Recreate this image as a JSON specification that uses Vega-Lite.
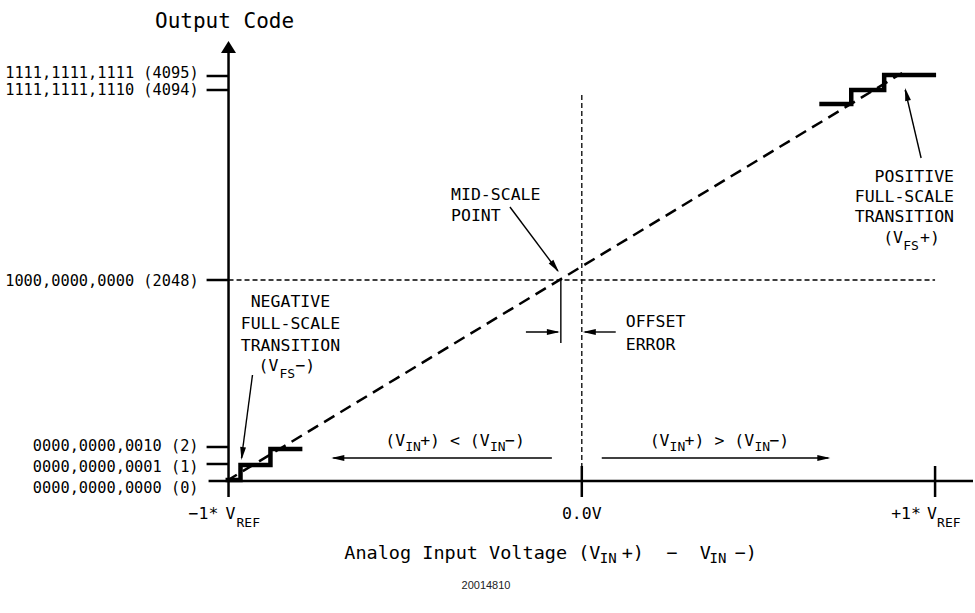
{
  "$schema": "https://vega.github.io/schema/vega-lite/v6.json",
  "width": 975,
  "height": 613,
  "autosize": {"type": "fit", "contains": "padding"},
  "padding": 0,
  "background": "white",
  "config": {"view": {"stroke": null}},
  "datasets": {
    "dotted": [
      {"x": -354, "y": 201, "x2": 354, "y2": 201},
      {"x": 0, "y": 386, "x2": 0, "y2": 0}
    ],
    "ideal": [
      {"x": -356, "y": 0, "x2": 321, "y2": 408}
    ],
    "axisLines": [
      {"x": -354, "y": -16, "x2": -354, "y2": 430},
      {"x": -374, "y": 0, "x2": 392, "y2": 0},
      {"x": -376, "y": 405, "x2": -354, "y2": 405},
      {"x": -376, "y": 391, "x2": -354, "y2": 391},
      {"x": -376, "y": 201, "x2": -354, "y2": 201},
      {"x": -376, "y": 34, "x2": -354, "y2": 34},
      {"x": -376, "y": 17, "x2": -354, "y2": 17},
      {"x": 0, "y": 15, "x2": 0, "y2": -16},
      {"x": 354, "y": 15, "x2": 354, "y2": -16}
    ],
    "leaders": [
      {"x": -21, "y": 201, "x2": -21, "y2": 138},
      {"x": -56, "y": 149, "x2": -24, "y2": 149},
      {"x": 34, "y": 149, "x2": 3, "y2": 149},
      {"x": -30, "y": 23, "x2": -249, "y2": 23},
      {"x": 20, "y": 23, "x2": 247, "y2": 23},
      {"x": -330, "y": 106, "x2": -341, "y2": 23},
      {"x": -72, "y": 274, "x2": -24, "y2": 210},
      {"x": 340, "y": 323, "x2": 324, "y2": 391}
    ],
    "heads": [
      {"x": -22, "y": 149, "dir": 90},
      {"x": 1, "y": 149, "dir": 270},
      {"x": -251, "y": 23, "dir": 270},
      {"x": 249, "y": 23, "dir": 90},
      {"x": -341, "y": 21, "dir": 187},
      {"x": -23, "y": 209, "dir": 143},
      {"x": 324, "y": 393, "dir": 347}
    ],
    "yArrow": [
      {"x": -354, "y": 440}
    ],
    "steps": [
      {"series": "neg", "i": 0, "x": -357, "y": 1},
      {"series": "neg", "i": 1, "x": -342, "y": 1},
      {"series": "neg", "i": 2, "x": -342, "y": 16},
      {"series": "neg", "i": 3, "x": -312, "y": 16},
      {"series": "neg", "i": 4, "x": -312, "y": 32},
      {"series": "neg", "i": 5, "x": -280, "y": 32},
      {"series": "pos", "i": 0, "x": 238, "y": 377},
      {"series": "pos", "i": 1, "x": 270, "y": 377},
      {"series": "pos", "i": 2, "x": 270, "y": 391},
      {"series": "pos", "i": 3, "x": 303, "y": 391},
      {"series": "pos", "i": 4, "x": 303, "y": 406},
      {"series": "pos", "i": 5, "x": 355, "y": 406}
    ],
    "codeLabels": [
      {"text": "1111,1111,1111 (4095)", "x": -384, "y": 403},
      {"text": "1111,1111,1110 (4094)", "x": -384, "y": 386},
      {"text": "1000,0000,0000 (2048)", "x": -384, "y": 195},
      {"text": "0000,0000,0010 (2)", "x": -384, "y": 30},
      {"text": "0000,0000,0001 (1)", "x": -384, "y": 9},
      {"text": "0000,0000,0000 (0)", "x": -384, "y": -12}
    ],
    "notesCenter": [
      {"text": "NEGATIVE", "x": -292, "y": 174},
      {"text": "FULL-SCALE", "x": -292, "y": 152},
      {"text": "TRANSITION", "x": -292, "y": 130},
      {"text": "0.0V", "x": 0, "y": -38}
    ],
    "notesRight": [
      {"text": "POSITIVE", "x": 373, "y": 299},
      {"text": "FULL-SCALE", "x": 373, "y": 279},
      {"text": "TRANSITION", "x": 373, "y": 259}
    ],
    "notesLeft": [
      {"text": "(V", "x": -324, "y": 110},
      {"text": "−)", "x": -287, "y": 110},
      {"text": "(V", "x": 302, "y": 238},
      {"text": "+)", "x": 339, "y": 238},
      {"text": "MID-SCALE", "x": -131, "y": 281},
      {"text": "POINT", "x": -131, "y": 260},
      {"text": "OFFSET", "x": 44, "y": 154},
      {"text": "ERROR", "x": 44, "y": 131},
      {"text": "(V", "x": -197, "y": 35},
      {"text": "+) < (V", "x": -162, "y": 35},
      {"text": "−)", "x": -77, "y": 35},
      {"text": "(V", "x": 68, "y": 35},
      {"text": "+) > (V", "x": 103, "y": 35},
      {"text": "−)", "x": 188, "y": 35},
      {"text": "−1*", "x": -394, "y": -38},
      {"text": "V", "x": -357, "y": -38},
      {"text": "+1*", "x": 310, "y": -38},
      {"text": "V", "x": 346, "y": -38}
    ],
    "subs": [
      {"text": "FS", "x": -303, "y": 103},
      {"text": "FS", "x": 322, "y": 231},
      {"text": "IN", "x": -177, "y": 30},
      {"text": "IN", "x": -92, "y": 30},
      {"text": "IN", "x": 88, "y": 30},
      {"text": "IN", "x": 173, "y": 30},
      {"text": "REF", "x": -346, "y": -46},
      {"text": "REF", "x": 356, "y": -46}
    ],
    "title": [
      {"text": "Analog Input Voltage (V", "x": -238, "y": -78},
      {"text": "+)\u00a0\u00a0−\u00a0\u00a0V", "x": 40, "y": -78},
      {"text": "−)", "x": 153, "y": -78}
    ],
    "titleSubs": [
      {"text": "IN", "x": 18, "y": -82},
      {"text": "IN", "x": 128, "y": -82}
    ],
    "header": [
      {"text": "Output Code", "x": -358, "y": 453}
    ],
    "footnote": [
      {"text": "20014810", "x": -96, "y": -108}
    ]
  },
  "encoding": {
    "x": {"field": "x", "type": "quantitative", "scale": {"domain": [-583, 392], "nice": false, "zero": false}, "axis": null},
    "y": {"field": "y", "type": "quantitative", "scale": {"domain": [-132, 481], "nice": false, "zero": false}, "axis": null}
  },
  "layer": [
    {
      "data": {"name": "dotted"},
      "mark": {"type": "rule", "color": "black", "strokeWidth": 1.3, "strokeDash": [5, 3]},
      "encoding": {"x2": {"field": "x2"}, "y2": {"field": "y2"}}
    },
    {
      "data": {"name": "ideal"},
      "mark": {"type": "rule", "color": "black", "strokeWidth": 2.5, "strokeDash": [12, 7]},
      "encoding": {"x2": {"field": "x2"}, "y2": {"field": "y2"}}
    },
    {
      "data": {"name": "axisLines"},
      "mark": {"type": "rule", "color": "black", "strokeWidth": 2.5},
      "encoding": {"x2": {"field": "x2"}, "y2": {"field": "y2"}}
    },
    {
      "data": {"name": "leaders"},
      "mark": {"type": "rule", "color": "black", "strokeWidth": 1.4},
      "encoding": {"x2": {"field": "x2"}, "y2": {"field": "y2"}}
    },
    {
      "data": {"name": "steps"},
      "mark": {"type": "line", "color": "black", "strokeWidth": 4.5, "strokeJoin": "miter", "strokeCap": "butt"},
      "encoding": {"detail": {"field": "series"}, "order": {"field": "i", "type": "quantitative"}}
    },
    {
      "data": {"name": "heads"},
      "mark": {"type": "point", "shape": "M0,0L0.45,2L-0.45,2Z", "size": 169, "filled": true, "color": "black", "opacity": 1, "strokeWidth": 0},
      "encoding": {"angle": {"field": "dir", "type": "quantitative", "scale": null}}
    },
    {
      "data": {"name": "yArrow"},
      "mark": {"type": "point", "shape": "M0,0L1,1.6L-1,1.6Z", "size": 225, "filled": true, "color": "black", "opacity": 1, "strokeWidth": 0}
    },
    {
      "data": {"name": "codeLabels"},
      "mark": {"type": "text", "font": "DejaVu Sans Mono", "fontSize": 15.3, "align": "right", "baseline": "alphabetic", "color": "black"},
      "encoding": {"text": {"field": "text"}}
    },
    {
      "data": {"name": "notesCenter"},
      "mark": {"type": "text", "font": "DejaVu Sans Mono", "fontSize": 16.5, "align": "center", "baseline": "alphabetic", "color": "black"},
      "encoding": {"text": {"field": "text"}}
    },
    {
      "data": {"name": "notesRight"},
      "mark": {"type": "text", "font": "DejaVu Sans Mono", "fontSize": 16.5, "align": "right", "baseline": "alphabetic", "color": "black"},
      "encoding": {"text": {"field": "text"}}
    },
    {
      "data": {"name": "notesLeft"},
      "mark": {"type": "text", "font": "DejaVu Sans Mono", "fontSize": 16.5, "align": "left", "baseline": "alphabetic", "color": "black"},
      "encoding": {"text": {"field": "text"}}
    },
    {
      "data": {"name": "subs"},
      "mark": {"type": "text", "font": "DejaVu Sans Mono", "fontSize": 13, "align": "left", "baseline": "alphabetic", "color": "black"},
      "encoding": {"text": {"field": "text"}}
    },
    {
      "data": {"name": "title"},
      "mark": {"type": "text", "font": "DejaVu Sans Mono", "fontSize": 18.5, "align": "left", "baseline": "alphabetic", "color": "black"},
      "encoding": {"text": {"field": "text"}}
    },
    {
      "data": {"name": "titleSubs"},
      "mark": {"type": "text", "font": "DejaVu Sans Mono", "fontSize": 14, "align": "left", "baseline": "alphabetic", "color": "black"},
      "encoding": {"text": {"field": "text"}}
    },
    {
      "data": {"name": "header"},
      "mark": {"type": "text", "font": "DejaVu Sans Mono", "fontSize": 21, "align": "center", "baseline": "alphabetic", "color": "black"},
      "encoding": {"text": {"field": "text"}}
    },
    {
      "data": {"name": "footnote"},
      "mark": {"type": "text", "font": "Liberation Sans", "fontSize": 11, "align": "center", "baseline": "alphabetic", "color": "#222222"},
      "encoding": {"text": {"field": "text"}}
    }
  ]
}
